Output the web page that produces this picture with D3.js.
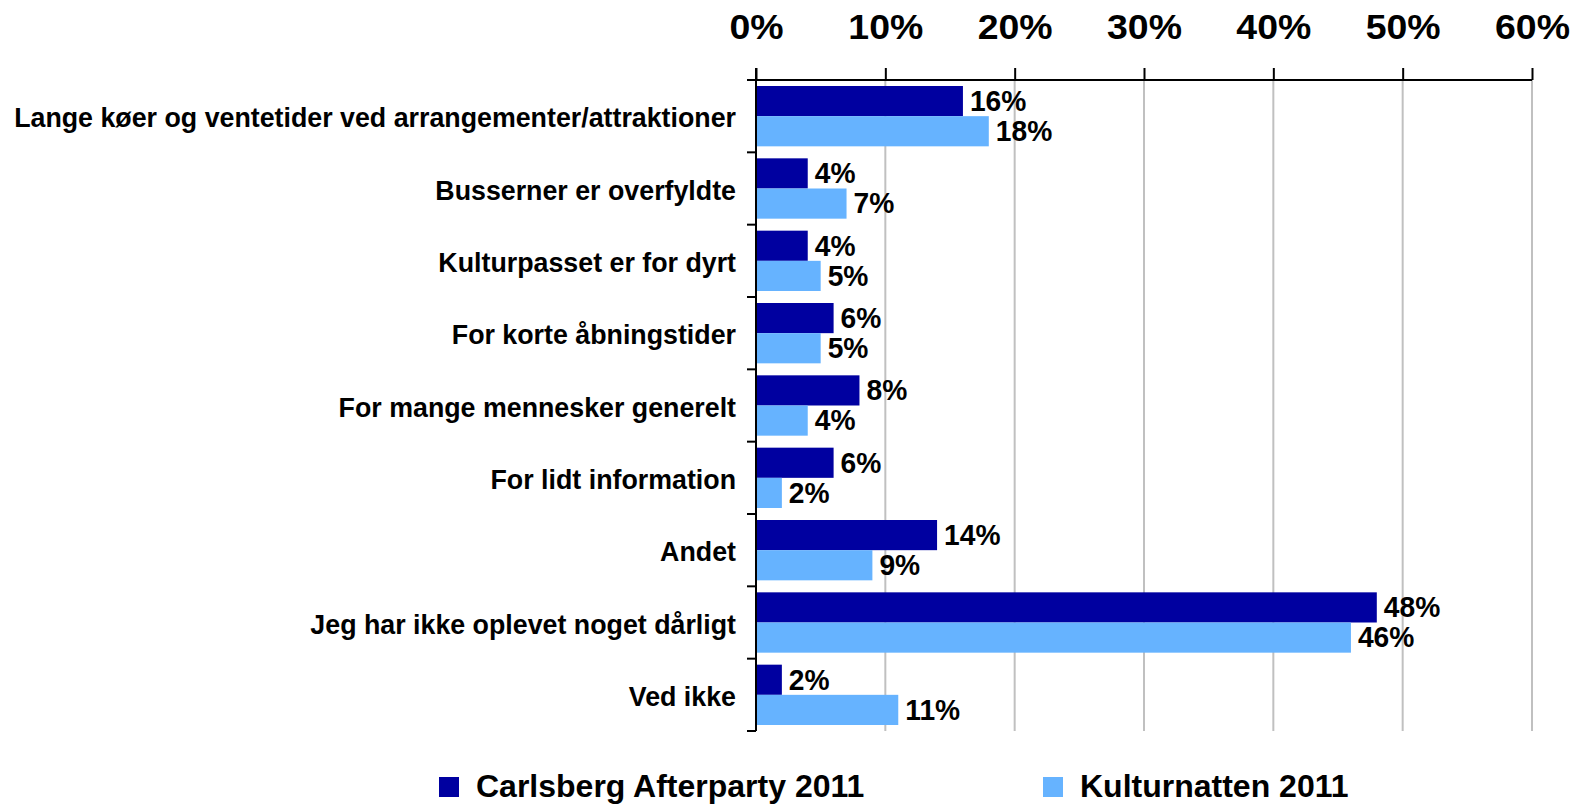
<!DOCTYPE html>
<html>
<head>
<meta charset="utf-8">
<script src="https://cdn.jsdelivr.net/npm/d3@7"></script>
<style>
    body { margin: 0; background: #fff; }
    svg text { font-family: "Liberation Sans", Arial, sans-serif; font-weight: bold; fill: #000; }
</style>
</head>
<body>
<svg id="chart" width="1589" height="805"></svg>
<script>
// data
var categories = [
    "Lange køer og ventetider ved arrangementer/attraktioner",
    "Busserner er overfyldte",
    "Kulturpasset er for dyrt",
    "For korte åbningstider",
    "For mange mennesker generelt",
    "For lidt information",
    "Andet",
    "Jeg har ikke oplevet noget dårligt",
    "Ved ikke"
];
var series = ["Carlsberg Afterparty 2011", "Kulturnatten 2011"];
var carlsberg = [16, 4, 4, 6, 8, 6, 14, 48, 2];
var kulturnatten = [18, 7, 5, 5, 4, 2, 9, 46, 11];
var ticks = [0, 10, 20, 30, 40, 50, 60];
var colors = ["#0000A0", "#66B3FF"];

var values = [carlsberg, kulturnatten];
var svg = d3.select("#chart");

var x = d3.scaleLinear().domain([0, 60]).range([756, 1532]);
var y0 = d3.scaleBand().domain(categories).range([80, 731]); // one band per category
var y1 = d3.scaleBand().domain(series).range([6, y0.bandwidth() - 6]); // bars inside a band

// grid lines
svg.append("g").selectAll("line")
    .data(ticks.slice(1))
    .enter().append("line")
    .attr("x1", function (d) { return x(d); })
    .attr("x2", function (d) { return x(d); })
    .attr("y1", 80).attr("y2", 731)
    .attr("stroke", "#c0c0c0").attr("stroke-width", 2);

// bars
var groups = svg.append("g").selectAll("g")
    .data(categories)
    .enter().append("g")
    .attr("transform", function (d) { return "translate(0," + y0(d) + ")"; });

series.forEach(function (s, si) {
    groups.append("rect")
        .attr("x", x(0))
        .attr("y", y1(s))
        .attr("width", function (d, i) { return x(values[si][i]) - x(0); })
        .attr("height", y1.bandwidth())
        .attr("fill", colors[si]);

    // labels are a bit narrower than plain Arial, so squeeze them
    groups.append("text")
        .attr("transform", function (d, i) {
            return "translate(" + (x(values[si][i]) + 7) + "," + (y1(s) + y1.bandwidth() / 2) + ") scale(0.94,1)";
        })
        .attr("dy", "0.33em")
        .style("font-size", "30px")
        .text(function (d, i) { return values[si][i] + "%"; });
});

// top axis
var xAxis = d3.axisTop(x)
    .tickValues(ticks)
    .tickFormat(function (d) { return d + "%"; })
    .tickSize(12)
    .tickSizeOuter(0)
    .tickPadding(29);

var ax = svg.append("g").attr("transform", "translate(0,80)").call(xAxis);
ax.select(".domain").remove();
ax.selectAll(".tick line").attr("stroke", "#000").attr("stroke-width", 2);
ax.selectAll(".tick text")
    .style("font-size", "35px")
    .attr("fill", "#000")
    .attr("transform", "scale(1.07,1)");
svg.append("line")
    .attr("x1", 747).attr("x2", x(60))
    .attr("y1", 80).attr("y2", 80)
    .attr("stroke", "#000").attr("stroke-width", 2);

// left axis with ticks on band edges
svg.append("line")
    .attr("x1", x(0)).attr("x2", x(0))
    .attr("y1", 68).attr("y2", 731)
    .attr("stroke", "#000").attr("stroke-width", 2);

var edges = categories.map(function (c) { return y0(c); }).concat([y0.range()[1]]);
svg.append("g").selectAll("line")
    .data(edges)
    .enter().append("line")
    .attr("x1", 747).attr("x2", x(0))
    .attr("y1", function (d) { return d; })
    .attr("y2", function (d) { return d; })
    .attr("stroke", "#000").attr("stroke-width", 2);

svg.append("g").selectAll("text")
    .data(categories)
    .enter().append("text")
    .attr("transform", function (d) {
        return "translate(736," + (y0(d) + y0.bandwidth() / 2 + 11) + ") scale(0.957,1)";
    })
    .attr("text-anchor", "end")
    .style("font-size", "28px")
    .text(function (d) { return d; });

// legend
var legendX = [439, 1043];
var legend = svg.append("g").selectAll("g")
    .data(series)
    .enter().append("g")
    .attr("transform", function (d, i) { return "translate(" + legendX[i] + ",777)"; });

legend.append("rect")
    .attr("width", 20).attr("height", 20)
    .attr("fill", function (d, i) { return colors[i]; });

legend.append("text")
    .attr("x", 37).attr("y", 20)
    .style("font-size", "32px")
    .text(function (d) { return d; });
</script>
</body>
</html>
